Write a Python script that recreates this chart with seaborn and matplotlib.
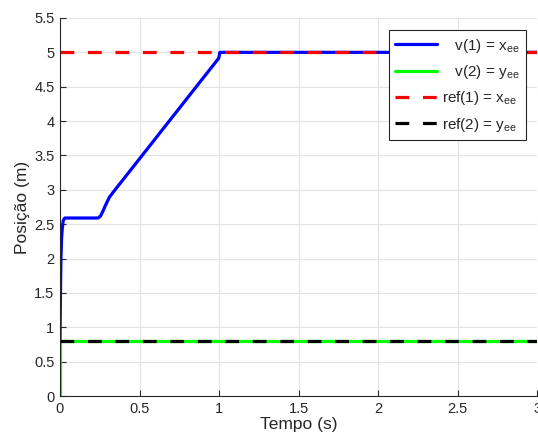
import matplotlib
matplotlib.use("Agg")
import matplotlib.pyplot as plt
import seaborn as sns
import numpy as np
import pandas as pd

# data
t_x = [0.0, 0.003, 0.006, 0.01, 0.015, 0.02, 0.03, 0.24, 0.255, 0.27, 0.285, 0.31, 0.336, 0.998, 1.005, 3.0]
x_ee = [0.8, 1.5, 2.0, 2.3, 2.45, 2.55, 2.59, 2.59, 2.62, 2.69, 2.77, 2.89, 2.97, 4.915, 5.0, 5.0]
t_y = [0.0, 0.0, 0.002, 3.0]
y_ee = [0.0, 0.8, 0.8, 0.8]
t_ref = [0.0, 3.0]
ref_x = [5.0, 5.0]
ref_y = [0.8, 0.8]
labels = ["   v(1) = x$_{ee}$", "   v(2) = y$_{ee}$", "ref(1) = x$_{ee}$", "ref(2) = y$_{ee}$"]
x_ticks = [0, 0.5, 1, 1.5, 2, 2.5, 3]
y_ticks = [0, 0.5, 1, 1.5, 2, 2.5, 3, 3.5, 4, 4.5, 5, 5.5]

sns.set_theme(style="whitegrid")
plt.rcParams['font.family'] = ['Liberation Sans', 'DejaVu Sans']
plt.rcParams['mathtext.default'] = 'regular'

fig = plt.figure(figsize=(5.38, 4.44), dpi=100)
ax = fig.add_axes([0.1115, 0.108, 0.887, 0.8515])

lw = 2.3
dash = (4.3, 4.3)
sns.lineplot(x=t_x, y=x_ee, ax=ax, color="#0000ff", lw=lw, label=labels[0], sort=False, estimator=None)
sns.lineplot(x=t_y, y=y_ee, ax=ax, color="#00ff00", lw=lw, label=labels[1], sort=False, estimator=None)
sns.lineplot(x=t_ref, y=ref_x, ax=ax, color="#ff0000", lw=lw, label=labels[2], sort=False, estimator=None)
sns.lineplot(x=t_ref, y=ref_y, ax=ax, color="#000000", lw=lw, label=labels[3], sort=False, estimator=None)
for ln in ax.lines[2:4]:
    ln.set_dashes(dash)

ax.set_xlim(0, 3)
ax.set_ylim(0, 5.5)
ax.set_xticks(x_ticks)
ax.set_xticklabels([f"{v:g}" for v in x_ticks])
ax.set_yticks(y_ticks)
ax.set_yticklabels([f"{v:g}" for v in y_ticks])
ax.set_xlabel("Tempo (s)", fontsize=12.5, color="#262626", labelpad=1)
ax.set_ylabel("Posição (m)", fontsize=12.5, color="#262626", labelpad=3)
ax.tick_params(axis="both", labelsize=10.5, colors="#262626", direction="in", length=4, width=0.8, pad=4,
               bottom=True, left=True)
ax.grid(True, color="#e3e3e3", lw=0.8)
ax.set_facecolor("white")
for s in ["top", "right"]:
    ax.spines[s].set_visible(False)
for s in ["left", "bottom"]:
    ax.spines[s].set_visible(True)
    ax.spines[s].set_color("#262626")
    ax.spines[s].set_linewidth(0.8)

leg = ax.legend(loc="upper right", bbox_to_anchor=(0.976, 0.967), fontsize=11, frameon=True, fancybox=False,
                edgecolor="#262626", framealpha=1, handlelength=2.7, borderpad=0.4, labelspacing=0.55,
                handletextpad=0.35, borderaxespad=0)
leg.get_frame().set_linewidth(0.8)
for h in leg.get_lines()[2:]:
    h.set_dashes(dash)

fig.savefig("out.png", dpi=100)
